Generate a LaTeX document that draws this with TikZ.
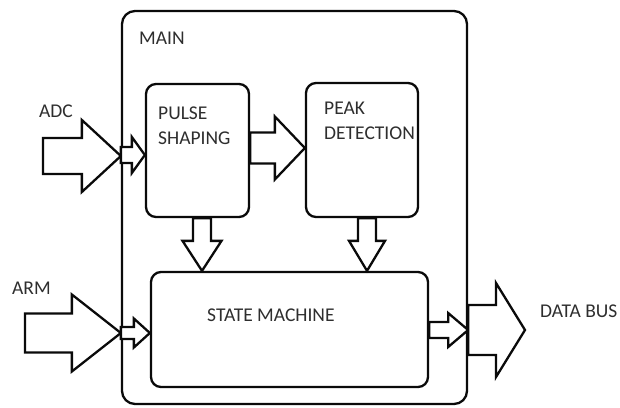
\documentclass[tikz,border=0pt]{standalone}
\usepackage{fontspec}
\setmainfont{Carlito}
\usetikzlibrary{calc}

\definecolor{inkline}{HTML}{0A0A0A}
\definecolor{inktext}{HTML}{2E2E2E}

% block arrow pointing right: start, tip, head length, shaft half width, head half width
\newcommand\rightblock[5]{%
  \draw[barrow] let \p1=(#1), \p2=(#2) in
    (\x2,\y2) -- (\x2-#3pt,\y2+#5pt) -- (\x2-#3pt,\y2+#4pt) -- (\x1,\y2+#4pt)
    -- (\x1,\y2-#4pt) -- (\x2-#3pt,\y2-#4pt) -- (\x2-#3pt,\y2-#5pt) -- cycle;}
% block arrow pointing down: start, tip, head length, shaft half width, head half width
\newcommand\downblock[5]{%
  \draw[barrow] let \p1=(#1), \p2=(#2) in
    (\x2,\y2) -- (\x2-#5pt,\y2+#3pt) -- (\x2-#4pt,\y2+#3pt) -- (\x2-#4pt,\y1)
    -- (\x2+#4pt,\y1) -- (\x2+#4pt,\y2+#3pt) -- (\x2+#5pt,\y2+#3pt) -- cycle;}

\begin{document}
\begin{tikzpicture}[x=1pt,y=-1pt,
  box/.style={draw=inkline,line width=2.3pt,fill=white,inner sep=0pt},
  barrow/.style={draw=inkline,line width=2.3pt,fill=white,line join=miter},
  lbl/.style={text=inktext,font=\fontsize{19.5}{25}\selectfont,inner sep=0pt,
    anchor=north west,align=left}]
  \useasboundingbox (0,0) rectangle (620,407);

  % outer MAIN block
  \node[box,rounded corners=13pt,minimum width=345pt,minimum height=393pt]
    (main) at (294.5,207.5) {};
  \node[lbl] (mainlbl) at (139,32) {MAIN};

  % inner blocks
  \node[box,rounded corners=10pt,minimum width=103pt,minimum height=133pt]
    (ps) at (197.5,150.5) {};
  \node[box,rounded corners=10pt,minimum width=112pt,minimum height=134pt]
    (pd) at (362,150) {};
  \node[box,rounded corners=10pt,minimum width=277pt,minimum height=115pt]
    (sm) at (289.5,329.5) {};

  \node[lbl] (pslbl) at (158,107) {PULSE\\SHAPING};
  \node[lbl] (pdlbl) at (324,102) {PEAK\\DETECTION};
  \node[lbl] (smlbl) at (207,309) {STATE MACHINE};

  % named arrow tips
  \coordinate (adcin)  at (43,156);
  \coordinate (armin)  at (25,333);
  \coordinate (busout) at (525,330);

  % ADC input
  \rightblock{adcin}{main.west |- adcin}{39}{18}{36}
  \rightblock{main.west |- 0,155}{ps.west |- 0,155}{13}{8}{18}
  % pulse shaping -> peak detection
  \rightblock{ps.east |- 0,148}{pd.west |- 0,148}{30}{15.5}{31.5}
  % downward arrows into the state machine
  \downblock{ps.south -| 202,0}{sm.north -| 202,0}{30}{9}{19.5}
  \downblock{pd.south -| 367,0}{sm.north -| 367,0}{30}{9}{18}
  % ARM input
  \rightblock{armin}{main.west |- armin}{49}{19.5}{38.5}
  \rightblock{main.west |- armin}{sm.west |- armin}{16}{6}{14.5}
  % state machine -> data bus
  \rightblock{sm.east |- busout}{main.east |- busout}{20}{8}{17}
  \rightblock{main.east |- busout}{busout}{29}{25}{47}

  % external labels
  \node[lbl] (adclbl) at (39,105) {ADC};
  \node[lbl] (armlbl) at (12,282) {ARM};
  \node[lbl] (buslbl) at (540,305) {DATA BUS};
\end{tikzpicture}
\end{document}
